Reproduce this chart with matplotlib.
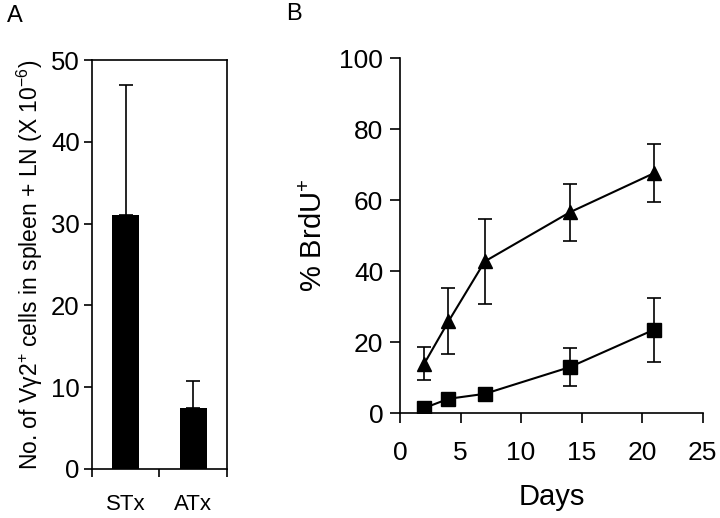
import matplotlib
matplotlib.use("Agg")
import matplotlib.pyplot as plt
import numpy as np

plt.rcParams['font.family'] = ['Liberation Sans', 'DejaVu Sans']
plt.rcParams['mathtext.fontset'] = 'custom'
plt.rcParams['mathtext.rm'] = 'Liberation Sans'
plt.rcParams['mathtext.it'] = 'Liberation Sans'
plt.rcParams['mathtext.default'] = 'rm'

# Panel A data
groups = ["STx", "ATx"]
counts = [31.0, 7.5]
counts_err = [16.0, 3.2]

# Panel B data
days = [2, 4, 7, 14, 21]
tri_vals = [13.9, 25.8, 42.7, 56.5, 67.6]
tri_err = [4.7, 9.3, 12.0, 8.1, 8.3]
sq_vals = [1.4, 4.0, 5.4, 12.9, 23.5]
sq_err = [0.5, 0.5, 0.5, 5.3, 9.0]

fig = plt.figure(figsize=(7.2, 5.18), dpi=100)

# ---------- Panel A ----------
axA = fig.add_axes([0.128, 0.0946, 0.187, 0.7894])
xpos = np.arange(len(groups)) + 0.5
axA.bar(xpos, counts, width=0.4, color='black', zorder=2)
axA.errorbar(xpos, counts, yerr=[[0, 0], counts_err], fmt='none',
             ecolor='black', elinewidth=1.2, capsize=5, capthick=1.2)
axA.set_xlim(0, 2)
axA.set_ylim(0, 50)
axA.set_yticks([0, 10, 20, 30, 40, 50])
axA.set_xticks([0, 1, 2])
axA.set_xticklabels(['', '', ''])
for x, g in zip(xpos, groups):
    axA.text(x, -3.0, g, ha='center', va='top', fontsize=16,
             transform=axA.transData)
axA.tick_params(axis='y', direction='out', length=6, width=1.2, labelsize=18.5, pad=3)
axA.tick_params(axis='x', direction='out', length=6, width=1.2)
for s in axA.spines.values():
    s.set_linewidth(1.2)
axA.set_ylabel(r'No. of V$\gamma$2$^{+}$ cells in spleen + LN (X 10$^{-6}$)',
               fontsize=16.5, labelpad=4)
fig.text(0.01, 0.99, 'A', fontsize=17, ha='left', va='top')

# ---------- Panel B ----------
axB = fig.add_axes([0.5556, 0.2027, 0.4204, 0.6853])
axB.errorbar(days, tri_vals, yerr=tri_err, color='black', marker='^',
             markersize=10, linewidth=1.5, elinewidth=1.2, capsize=5,
             capthick=1.2)
axB.errorbar(days, sq_vals, yerr=sq_err, color='black', marker='s',
             markersize=10, linewidth=1.5, elinewidth=1.2, capsize=5,
             capthick=1.2)
axB.set_xlim(0, 25)
axB.set_ylim(0, 100)
axB.set_xticks([0, 5, 10, 15, 20, 25])
axB.set_yticks([0, 20, 40, 60, 80, 100])
axB.spines['top'].set_visible(False)
axB.spines['right'].set_visible(False)
for s in ['left', 'bottom']:
    axB.spines[s].set_linewidth(1.2)
axB.tick_params(direction='out', length=7, width=1.2, labelsize=19)
axB.tick_params(axis='x', pad=13)
axB.tick_params(axis='y', pad=5)
axB.set_ylabel(r'% BrdU$^{+}$', fontsize=21, labelpad=8)
axB.set_xlabel('Days', fontsize=21, labelpad=13)
fig.text(0.398, 0.995, 'B', fontsize=17, ha='left', va='top')

fig.savefig('out.png', dpi=100)
